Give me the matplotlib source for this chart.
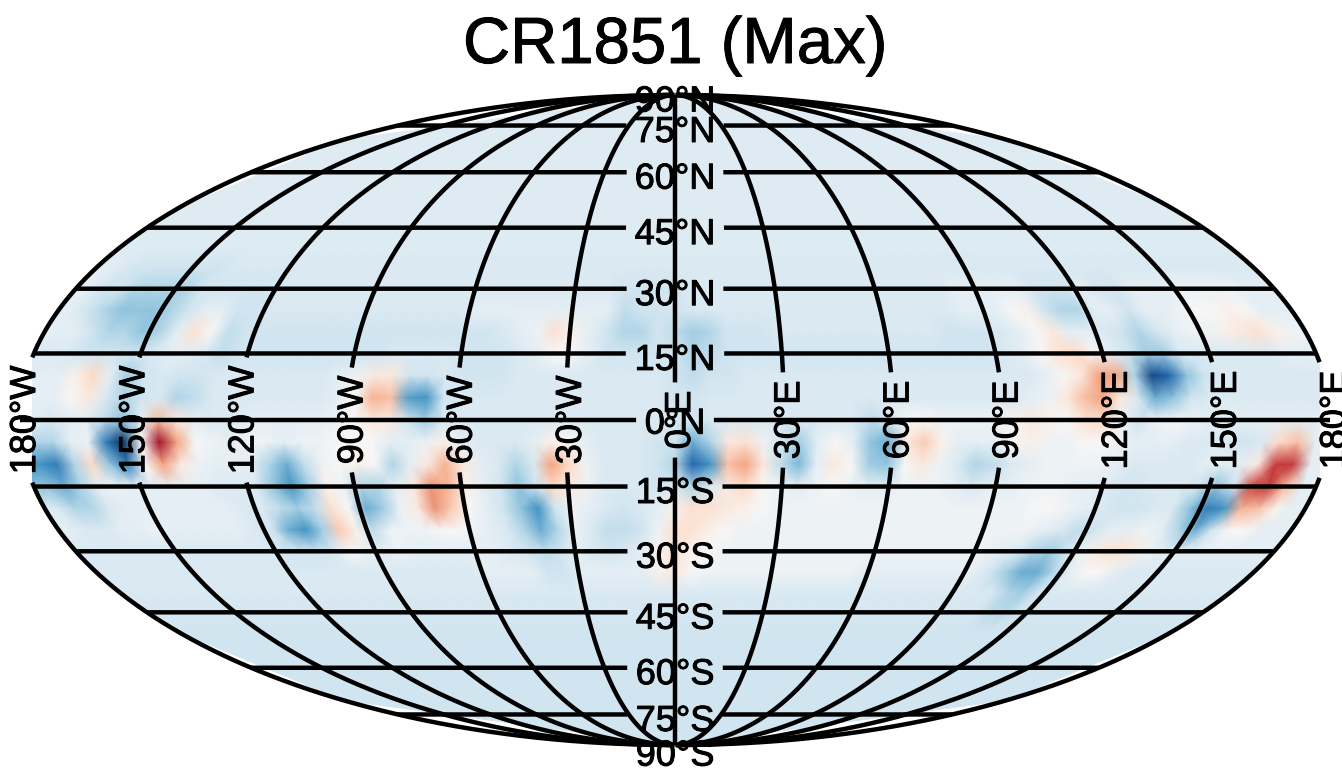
import numpy as np
import matplotlib
matplotlib.use('Agg')
import matplotlib.pyplot as plt
import matplotlib.patheffects as pe
from matplotlib.transforms import Bbox

plt.rcParams['font.family'] = ['Liberation Sans', 'DejaVu Sans']

title = 'CR1851 (Max)'
# the columns were read 4.9 degrees apart, the map edge is at +-180
lons = np.arange(-36, 37) * 4.9
lats = [90, 70, 50, 40, 35, 30, 25, 20, 15, 10, 5, 0, -5, -10, -15, -20, -25, -30, -35, -40, -50, -70, -90]

# values, in tenths of the colour range, one row per latitude
field = [
    [-1.3] * 73,
    [-1.3] * 73,
    [-1.3] * 73,
    [-1.4] * 73,
    [-1, -1.5, -2, -2, -2, -2, -2, -2, -1.5, -1.5, -1.5, -1.5,
     -1.5, -1.5, -1.5, -1.5, -1.5, -1.5, -1.5, -1.5, -1.5, -1.5, -1.5, -1.5,
     -1.5, -1.5, -1.5, -1.5, -1.5, -1.5, -1.5, -1.5, -1.5, -1.5, -1.5, -1.5,
     -1.5, -1.5, -1.5, -1.5, -1.5, -1.5, -1.5, -1.5, -1.5, -1.5, -1.5, -1.5,
     -1.5, -1.5, -1.5, -1.5, -1.5, -1.5, -1.5, -1.5, -1.5, -1.5, -1.5, -1.5,
     -1.5, -1.5, -1.5, -1.5, -1.5, -1.5, -1.5, -1.5, -1.5, -1.5, -1.5, -1.5, -1.5],
    [-1, -2, -2, -3, -3, -3, -3, -2, -2, -2, -2, -2,
     -1.5, -1.5, -1.5, -1.5, -1.5, -1.5, -1.5, -1.5, -1.5, -1.5, -1.5, -1.5,
     -1.5, -1.5, -1.5, -1.5, -1.5, -1.5, -1.5, -1.5, -1.5, -2, -2, -2,
     -2, -1.5, -1.5, -1.5, -1.5, -1.5, -1.5, -1.5, -1.5, -1.5, -1.5, -1.5,
     -1.5, -1.5, -1.5, -1.5, -1.5, -1, -1, -1, -1, -1, -2, -2,
     -2, -1, -2, -2, -1, -1, -1, -0.5, -0.5, -0.5, -0.5, -1, -1],
    [-1, -2, -3, -4, -4, -4, -3, -2, -1, -1, -2, -2,
     -1.5, -1.5, -1.5, -1.5, -1.5, -1.5, -1.5, -1.5, -1.5, -1.5, -1.5, -1.5,
     -1, -1, -1, -1, -1, -1, -1, -1, -1, -2.5, -2, -2,
     -2, -1.5, -1.5, -1.5, -1.5, -1.5, -1.5, -1.5, -1.5, -1.5, -1.5, -1.5,
     -1.5, -1.5, -1.5, -1.5, -1.5, -1, -1, -1, 0, 0.5, -2, -3,
     -3, -1, -1, -2, -1, -1, -0.5, 0, 0, 0.5, 0, -1, -1],
    [-1, -1, -2, -3, -3, -4, -3, -1, 1.5, 0, -2.5, -2,
     -2, -2, -2, -2, -2, -2, -2, -2, -2, -2, -2, -2,
     -2, -2, -1.5, -1, -0.5, 1.5, 0.5, -1, -2, -3, -3, -2,
     -2.5, -3.5, -3, -2, -2, -2, -1.5, -1.5, -1.5, -1.5, -1.5, -1.5,
     -1.5, -1.5, -1.5, -1.5, -2, -2, -2, -1.5, -1, 0, 1, -1,
     -1, -1.5, -2, -3, -2, -1, -0.5, -0.5, 0.5, 1, 1.5, 0.5, -0.5],
    [-1.5, -1.5, -2, -2, -2, -2, -1.5, -1, -1, -1.5, -2.5, -2,
     -2, -2, -2, -2, -2, -2, -2, -2, -1.5, -1.5, -1.5, -1.5,
     -2, -2, -2, -1.5, -1, 0, 0, -1, -2, -2, -2, -2,
     -2, -3, -2.5, -2, -2, -2, -2, -2, -2, -2, -2, -2,
     -2, -2, -2, -2, -2, -2, -2, -1.5, -1, 0, 1.5, 2,
     0, -1, -2, -3.5, -3.5, -1.5, -1.5, -1.5, -1.5, -1.5, -1.5, -1, -1],
    [-1, -1, 0.5, 2, -1, -3.5, -2, -1.5, -2, -2, -1.5, -1.5,
     -1.5, -1.5, -1.5, -1.5, -1.5, -1, -0.5, 1, 1, -2, -2, -1.5,
     -2, -2, -2, -1.5, -1.5, -1.5, -1.5, -1.5, -1.5, -1.5, -1.5, -1.5,
     -2, -2.5, -2, -2, -1.5, -1.5, -1.5, -1.5, -1.5, -1.5, -1.5, -1.5,
     -1.5, -1.5, -1.5, -1.5, -1.5, -1.5, -1.5, -1.5, -1.5, -1, 0, 1,
     4, 4, -3, -9, -8, -4, -2, -1.5, -1.5, -1.5, -1.5, -1.5, -1.5],
    [-1, -1, 0, 1, -1.5, -3, -2, -1.5, -3, -2.5, -1.5, -1.5,
     -1.5, -1.5, -1.5, -1.5, -1.5, -1, 0, 3.5, 3, -5.5, -6, -2,
     -1.5, -1.5, -1.5, -1.5, -1.5, -1.5, -1.5, -1.5, -1.5, -1.5, -1.5, -1.5,
     -2, -2, -1.5, -1.5, -1.5, -1.5, -1.5, -1.5, -1.5, -1.5, -1.5, -1.5,
     -1.5, -1.5, -1.5, -1.5, -1.5, -1.5, -1.5, -1.5, -1, -0.5, 1, 3,
     4, 1, -1.5, -5, -4, -2, -1.5, -1.5, -1.5, -1.5, -1.5, -1.5, -1.5],
    [-1, -1.5, -1, -1, -2.5, -4, -1, 3, 1, -1, -1.5, -1.5,
     -1, -1, -1, -1, -1, -0.5, 0, 1, 1, -2, -3.5, -1.5,
     -1.5, -1.5, -1.5, -1.5, -1.5, -1.5, -1.5, -1.5, -1.5, -1.5, -1.5, -1.5,
     -1.5, -2, -1.5, -1.5, -1.5, -1.5, -1.5, -1.5, -1.5, -1.5, -1.5, -2.5,
     -1.5, 0, 0, -0.5, -0.5, -0.5, -0.5, 0.5, 1, 0.5, 0, 1.5,
     2, -0.5, -2, -0.5, 0, -0.5, -1, -1, -1, -1, -1, -1, -1],
    [-3, -3, -1, -0.5, -7, -10, 0, 8.5, 4, 0, -0.5, -1,
     -0.5, -0.5, -1, -0.5, -0.5, 0, 0, 0, -1, -1, -0.5, 0.5,
     -1, -1.5, -1.5, -1.5, -1, 0.5, 0, -1, -1.5, -1.5, -1.5, -2,
     -2, -5, -3, 1, 1.5, -0.5, -2, -3.5, -1, 0, -1, -4,
     -5, 1, 2.5, 0.5, -1, -1, -1, 0, 0.5, -0.5, -0.5, 0,
     0, -0.5, -1, -1, -1, -1.5, -1.5, -1.5, -2, -1.5, 2, 3, -1],
    [-6, -7, -3, 2, -4, -7, 0, 4, 1, -0.5, -1, -1,
     -1, -3, -5, -2.5, -0.5, 0, 0.5, 0, -3, -1, 1, 3.5,
     1, -1, -1.5, -3, -1.5, 4, 2, -0.5, -1.5, -1.5, -1.5, -2,
     -3, -8, -6, 3, 4, 1, -2.5, -4.5, -1, 1, 0, -3.5,
     -4, 0, 1, -0.5, -1.5, -3, -2.5, -1.5, -1, -0.5, -0.5, -0.5,
     -0.5, -1, -1.5, -1.5, -1.5, -1.5, -1, -1, -1, 1, 7, 7, -1],
    [-4, -5, -3, -1, -0.5, -1, -1, -1, -1, -1, -1.5, -1.5,
     -1.5, -4, -6, -3.5, 0.5, -0.5, -3, -3, -1, 1, 4.5, 3.5,
     0.5, -1, -2, -4, -2, 2, 1, -0.5, -1.5, -1.5, -1.5, -2,
     -1.5, -3, -1.5, 1, 2, 0, -0.5, -1, -0.5, 0, -0.5, -1,
     -1, -0.5, -0.5, -0.5, -1, -1.5, -1, -1, -0.5, -0.5, -0.5, -1,
     -1, -1.5, -2, -1.5, -1.5, -1.5, -2, -4, -2, 6.5, 7, 3, -1],
    [-1.5, -3, -3, -1.5, -1, -1, -1, -1, -1, -1, -1, -1.5,
     -1.5, -2.5, -3.5, -2.5, 1.5, 0, -5, -3.5, -0.5, 1, 4.5, 2.5,
     0, -1, -2, -4, -6, -2, -0.5, -1, -1.5, -2, -1.5, -1,
     0.5, 1.5, 1.5, 1, 0.5, 0, -0.5, -0.5, -0.5, -0.5, -0.5, -0.5,
     -0.5, -0.5, -0.5, -0.5, -0.5, -0.5, -0.5, -0.5, -0.5, 0, 0, -0.5,
     -1, -1.5, -2, -2, -1.5, -1.5, -4, -7, -6, 3.5, 3, 0.5, -1],
    [-1, -1.5, -1.5, -1, -1, -0.5, -1, -1, -1, -1, -1, -1.5,
     -2, -5, -6, -3.5, 2.5, 0.5, -2.5, -0.5, -0.5, -0.5, 0, 0,
     -0.5, -1, -1.5, -3, -5, -3, -0.5, -1.5, -2.5, -2.5, -2, -0.5,
     1.5, 1.5, 0.5, 0, -0.5, -0.5, -0.5, -0.5, -0.5, -0.5, -0.5, -0.5,
     -0.5, -0.5, -0.5, -0.5, -0.5, -0.5, -0.5, -0.5, -0.5, -0.5, -1, -1.5,
     -2.5, -2, -1, -1, -0.5, -1, -3, -5, -2, 0, 0, -1, -1],
    [-1.5, -1.5, -1.5, -1.5, -1.5, -1.5, -1.5, -1.5, -1.5, -1.5, -1.5, -1.5,
     -2, -2, -2, -1.5, 0, -0.5, -1, -0.5, -1, -1, -1, -1,
     -1, -1, -1.5, -2, -2.5, -2, -1, -1.5, -2, -1.5, -1, 0.5,
     1.5, 0.5, 0, -0.5, -0.5, -0.5, -0.5, -0.5, -0.5, -0.5, -0.5, -0.5,
     -0.5, -0.5, -0.5, -0.5, -0.5, -0.5, -0.5, -0.5, -1, -1.5, -3, -3.5,
     -2, -0.5, 1, 1.5, 1, -0.5, -1, -1, -1, -1, -1, -1, -1],
    [-1.5, -1.5, -1.5, -1.5, -1.5, -1.5, -1.5, -1.5, -1.5, -1.5, -1.5, -1.5,
     -1.5, -1.5, -1.5, -1.5, -1.5, -1.5, -1.5, -1.5, -1.5, -1.5, -1.5, -1.5,
     -1, -1, -1, -1, -2, -2, -1, -1, -1, -1, -1, 0.5,
     1, 0, -0.5, -0.5, -0.5, -0.5, -0.5, -0.5, -0.5, -0.5, -0.5, -0.5,
     -1, -1, -1, -1, -1, -1, -1, -1, -2, -3.5, -5, -5,
     -3, -1, 0, 0, -1, -1.5, -1.5, -1.5, -1.5, -1.5, -1.5, -1.5, -1.5],
    [-1.5] * 58 + [-3, -3.5, -2] + [-1.5] * 12,
    [-2] * 73,
    [-2] * 73,
    [-2] * 73,
]
field = np.array(field, dtype=float)

lon_ticks = [-180, -150, -120, -90, -60, -30, 0, 30, 60, 90, 120, 150, 180]
lat_ticks = [90, 75, 60, 45, 30, 15, 0, -15, -30, -45, -60, -75, -90]


def lon_label(lon):
    return f"{abs(lon)}°{'W' if lon < 0 else 'E'}"


def lat_label(lat):
    return f"{abs(lat)}°{'S' if lat < 0 else 'N'}"


fig = plt.figure(figsize=(13.42, 7.78), dpi=100)
ax = fig.add_axes([20 / 1342, 33 / 778, 1310 / 1342, 650 / 778], projection='mollweide')
ax.set_aspect('auto')
ax.grid(False)
ax.set_xticklabels([])
ax.set_yticklabels([])
ax.spines['geo'].set_visible(False)

# repeat the outer columns out to the map edge
X, Y = np.meshgrid(np.radians(np.r_[-180, lons, 180]), np.radians(lats))
values = np.column_stack([field[:, 0], field, field[:, -1]])
mesh = ax.pcolormesh(X, Y, values, cmap='RdBu_r', vmin=-10, vmax=10, shading='gouraud', rasterized=True)
# the map is cut straight at both sides of the equator band
mesh.set_clip_box(Bbox([[32, 0], [1320, 778]]))

heavy = [pe.withStroke(linewidth=0.7, foreground='k')]
fig.text(675 / 1342, 1 - 63 / 778, title, fontsize=47, ha='center', va='baseline', path_effects=heavy)

# labels first, the grid lines stop short of their own label
lon_texts = {}
for lon in lon_ticks:
    lon_texts[lon] = ax.annotate(lon_label(lon), (np.radians(lon), 0), xytext=(4, 0),
                                 textcoords='offset points', rotation=90, fontsize=26,
                                 ha='center', va='center', zorder=5, annotation_clip=False,
                                 path_effects=heavy)
lat_texts = {}
for lat in lat_ticks:
    dy = -3 if lat == 0 else -8 if lat == -90 else -5
    lat_texts[lat] = ax.annotate(lat_label(lat), (0, np.radians(lat)), xytext=(0, dy),
                                 textcoords='offset points', fontsize=26,
                                 ha='center', va='center', zorder=5, annotation_clip=False,
                                 path_effects=heavy)

fig.canvas.draw()
renderer = fig.canvas.get_renderer()

for lon in lon_ticks:
    box = lon_texts[lon].get_window_extent(renderer)
    la = np.radians(np.linspace(-89.99, 89.99, 1500))
    lo = np.full_like(la, np.radians(lon))
    py = ax.transData.transform(np.column_stack([lo, la]))[:, 1]
    la[(py > box.y0 - 8) & (py < box.y1 + 8)] = np.nan
    ax.plot(lo, la, color='k', lw=3.2, clip_on=False, zorder=3, solid_capstyle='butt')

for lat in lat_ticks[1:-1]:
    box = lat_texts[lat].get_window_extent(renderer)
    lo = np.radians(np.linspace(-180, 180, 1500))
    la = np.full_like(lo, np.radians(lat))
    px = ax.transData.transform(np.column_stack([lo, la]))[:, 0]
    la[(px > box.x0 - 8) & (px < box.x1 + 8)] = np.nan
    ax.plot(lo, la, color='k', lw=3.2, clip_on=False, zorder=3, solid_capstyle='butt')

fig.savefig('out.png', dpi=100)
